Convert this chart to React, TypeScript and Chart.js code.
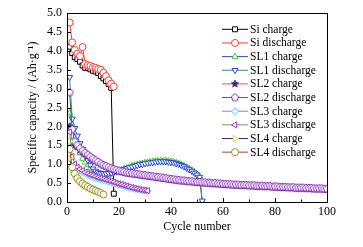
import React, { useEffect, useRef } from "react";
import { Chart, registerables } from "chart.js";
import { drawPoint } from "chart.js/helpers";

Chart.register(...registerables);

// Cycle numbers start at 1 for every series
const FIRST_CYCLE = 1;

const siCharge = [4.11, 3.94, 3.83, 3.78, 3.71, 3.61, 3.55, 3.54, 3.51, 3.47, 3.45, 3.41, 3.33, 3.27, 3.2, 3.12, 3.02, 0.22];
const siDischarge = [4.75, 4.22, 4.02, 3.92, 3.86, 4.1, 3.65, 3.62, 3.6, 3.57, 3.55, 3.52, 3.5, 3.42, 3.33, 3.22, 3.13, 3.05];

const sl1Charge = [2.35, 2.05, 1.7, 1.45, 1.3, 1.15, 1.05, 0.98, 0.9, 0.82, 0.76, 0.72, 0.7, 0.7, 0.71, 0.73, 0.75, 0.78, 0.8, 0.83, 0.85, 0.88, 0.9, 0.92, 0.95, 0.97, 0.99, 1.01, 1.02, 1.04, 1.05, 1.06, 1.07, 1.08, 1.09, 1.09, 1.09, 1.09, 1.08, 1.07, 1.06, 1.04, 1.02, 0.99, 0.96, 0.92, 0.88, 0.84, 0.79, 0.74, 0.68, 0.02];
const sl1Discharge = [3.3, 2.2, 1.95, 1.75, 1.55, 1.4, 1.25, 1.1, 0.98, 0.88, 0.82, 0.78, 0.76, 0.75, 0.75, 0.76, 0.77, 0.79, 0.81, 0.83, 0.85, 0.87, 0.89, 0.91, 0.93, 0.95, 0.97, 0.99, 1.0, 1.02, 1.03, 1.04, 1.05, 1.06, 1.07, 1.07, 1.07, 1.07, 1.06, 1.05, 1.04, 1.02, 1.0, 0.97, 0.94, 0.9, 0.86, 0.82, 0.77, 0.72, 0.66, 0.03];

const sl2Charge = [2.0, 1.55, 1.5, 1.45, 1.38, 1.32, 1.27, 1.22, 1.17, 1.12, 1.08, 1.04, 1.0, 0.96, 0.93, 0.9, 0.87, 0.85, 0.83, 0.81, 0.79, 0.78, 0.76, 0.75, 0.74, 0.73, 0.72, 0.71, 0.7, 0.69, 0.68, 0.67, 0.66, 0.65, 0.64, 0.63, 0.62, 0.61, 0.6, 0.59, 0.58, 0.57, 0.56, 0.55, 0.55, 0.54, 0.53, 0.53, 0.52, 0.51, 0.51, 0.5, 0.5, 0.49, 0.49, 0.48, 0.48, 0.47, 0.47, 0.46, 0.46, 0.45, 0.45, 0.44, 0.44, 0.44, 0.43, 0.43, 0.43, 0.42, 0.42, 0.42, 0.41, 0.41, 0.41, 0.4, 0.4, 0.4, 0.39, 0.39, 0.39, 0.38, 0.38, 0.38, 0.37, 0.37, 0.37, 0.36, 0.36, 0.36, 0.36, 0.35, 0.35, 0.35, 0.34, 0.34, 0.34, 0.34, 0.33, 0.33];
const sl2Discharge = [2.9, 1.92, 1.6, 1.5, 1.42, 1.36, 1.3, 1.25, 1.2, 1.15, 1.1, 1.06, 1.02, 0.98, 0.95, 0.92, 0.89, 0.87, 0.85, 0.83, 0.81, 0.8, 0.78, 0.77, 0.76, 0.75, 0.74, 0.73, 0.72, 0.71, 0.7, 0.69, 0.68, 0.67, 0.66, 0.65, 0.64, 0.63, 0.62, 0.61, 0.6, 0.59, 0.58, 0.57, 0.57, 0.56, 0.55, 0.55, 0.54, 0.53, 0.53, 0.52, 0.52, 0.51, 0.51, 0.5, 0.5, 0.49, 0.49, 0.48, 0.48, 0.47, 0.47, 0.46, 0.46, 0.46, 0.45, 0.45, 0.45, 0.44, 0.44, 0.44, 0.43, 0.43, 0.43, 0.42, 0.42, 0.42, 0.41, 0.41, 0.41, 0.4, 0.4, 0.4, 0.39, 0.39, 0.39, 0.38, 0.38, 0.38, 0.38, 0.37, 0.37, 0.37, 0.36, 0.36, 0.36, 0.36, 0.35, 0.35];

const sl3Charge = [1.6, 1.1, 0.95, 0.88, 0.83, 0.79, 0.76, 0.72, 0.69, 0.66, 0.64, 0.62, 0.6, 0.58, 0.56, 0.54, 0.52, 0.5, 0.48, 0.46, 0.44, 0.42, 0.4, 0.38, 0.37, 0.35, 0.34, 0.32, 0.31, 0.3, 0.29];
const sl3Discharge = [1.85, 1.2, 1.0, 0.92, 0.87, 0.83, 0.79, 0.75, 0.72, 0.7, 0.67, 0.65, 0.63, 0.61, 0.59, 0.57, 0.55, 0.53, 0.5, 0.48, 0.46, 0.44, 0.42, 0.4, 0.38, 0.36, 0.35, 0.33, 0.32, 0.31, 0.3];

const sl4Charge = [1.15, 0.85, 0.68, 0.58, 0.5, 0.45, 0.41, 0.37, 0.34, 0.31, 0.28, 0.25, 0.22, 0.19];
const sl4Discharge = [1.4, 0.92, 0.75, 0.63, 0.55, 0.49, 0.44, 0.4, 0.36, 0.33, 0.3, 0.27, 0.24, 0.2];

const seriesLabels = [
  "Si charge", "Si discharge", "SL1 charge", "SL1 discharge", "SL2 charge",
  "SL2 discharge", "SL3 charge", "SL3 discharge", "SL4 charge", "SL4 discharge",
];

const xTicks = [0, 20, 40, 60, 80, 100];
const yTickStep = 0.5;

const FONT = "'Liberation Serif', 'Times New Roman', serif";

function makePentagon(color: string, r: number) {
  const s = Math.ceil(r * 2 + 4);
  const c = document.createElement("canvas");
  c.width = s;
  c.height = s;
  const ctx = c.getContext("2d")!;
  ctx.beginPath();
  for (let i = 0; i < 5; i++) {
    const a = -Math.PI / 2 + (i * 2 * Math.PI) / 5;
    const x = s / 2 + r * Math.cos(a);
    const y = s / 2 + r * Math.sin(a);
    if (i === 0) ctx.moveTo(x, y);
    else ctx.lineTo(x, y);
  }
  ctx.closePath();
  ctx.fillStyle = "#ffffff";
  ctx.fill();
  ctx.strokeStyle = color;
  ctx.lineWidth = 1;
  ctx.stroke();
  return c;
}

function makeStar(color: string, r: number) {
  const s = Math.ceil(r * 2 + 4);
  const c = document.createElement("canvas");
  c.width = s;
  c.height = s;
  const ctx = c.getContext("2d")!;
  ctx.beginPath();
  for (let i = 0; i < 10; i++) {
    const a = -Math.PI / 2 + (i * Math.PI) / 5;
    const rr = i % 2 === 0 ? r : r * 0.45;
    const x = s / 2 + rr * Math.cos(a);
    const y = s / 2 + rr * Math.sin(a);
    if (i === 0) ctx.moveTo(x, y);
    else ctx.lineTo(x, y);
  }
  ctx.closePath();
  ctx.fillStyle = color;
  ctx.fill();
  ctx.strokeStyle = color;
  ctx.lineWidth = 0.8;
  ctx.stroke();
  return c;
}

const toPoints = (vals: number[]) => vals.map((y, i) => ({ x: FIRST_CYCLE + i, y }));

const framePlugin = {
  id: "frameTicks",
  afterDatasetsDraw(chart: any) {
    const { ctx, chartArea } = chart;
    const xs = chart.scales.x;
    const ys = chart.scales.y;
    ctx.save();
    ctx.strokeStyle = "#000";
    ctx.lineWidth = 1;
    ctx.strokeRect(
      Math.round(chartArea.left) + 0.5,
      Math.round(chartArea.top) + 0.5,
      Math.round(chartArea.right - chartArea.left),
      Math.round(chartArea.bottom - chartArea.top)
    );
    ctx.beginPath();
    for (let v = 0; v <= 100; v += 10) {
      const px = Math.round(xs.getPixelForValue(v)) + 0.5;
      const len = v % 20 === 0 ? 4 : 2.5;
      ctx.moveTo(px, chartArea.bottom);
      ctx.lineTo(px, chartArea.bottom - len);
    }
    for (let v = 0; v <= 5.0001; v += yTickStep) {
      const py = Math.round(ys.getPixelForValue(v)) + 0.5;
      ctx.moveTo(chartArea.left, py);
      ctx.lineTo(chartArea.left + 4, py);
    }
    ctx.stroke();
    ctx.restore();
  },
};

const legendPlugin = {
  id: "insideLegend",
  afterDraw(chart: any) {
    const { ctx, chartArea } = chart;
    const right = chartArea.right;
    const top = chartArea.top;
    ctx.save();
    chart.data.datasets.forEach((ds: any, i: number) => {
      const y = top + 16.3 + 13.65 * i;
      const x0 = right - 105;
      const x1 = right - 79;
      ctx.strokeStyle = ds.borderColor;
      ctx.lineWidth = 1;
      ctx.beginPath();
      ctx.moveTo(x0, y);
      ctx.lineTo(x1, y);
      ctx.stroke();
      ctx.fillStyle = ds.pointBackgroundColor;
      ctx.strokeStyle = ds.pointBorderColor;
      drawPoint(
        ctx,
        { pointStyle: ds.pointStyle, rotation: ds.pointRotation || 0, radius: ds.pointRadius, borderWidth: 1 },
        (x0 + x1) / 2,
        y
      );
      ctx.fillStyle = "#000";
      ctx.font = `11.5px ${FONT}`;
      ctx.textBaseline = "middle";
      ctx.textAlign = "left";
      ctx.fillText(ds.label, right - 77, y + 0.5);
    });
    ctx.restore();
  },
};

export default function App() {
  const ref = useRef<HTMLCanvasElement | null>(null);

  useEffect(() => {
    if (!ref.current) return;
    document.body.style.margin = "0";

    const pentagon = makePentagon("#8a2fb8", 3.8);
    const star = makeStar("#2e2a78", 3.8);

    const mk = (
      idx: number,
      vals: number[],
      lineColor: string,
      markerColor: string,
      pointStyle: any,
      rotation = 0
    ) => ({
      label: seriesLabels[idx],
      data: toPoints(vals),
      showLine: true,
      order: seriesLabels.length - idx,
      borderColor: lineColor,
      borderWidth: 1,
      pointStyle,
      pointRotation: rotation,
      pointRadius: 3.5,
      pointBorderWidth: 1,
      pointBorderColor: markerColor,
      pointBackgroundColor: "#ffffff",
      tension: 0,
    });

    const datasets = [
      mk(0, siCharge, "#000000", "#000000", "rect"),
      mk(1, siDischarge, "#ff3b30", "#ff3b30", "circle"),
      mk(2, sl1Charge, "#2a4fd0", "#4cc43a", "triangle"),
      mk(3, sl1Discharge, "#3a8a86", "#2a48e0", "triangle", 180),
      mk(4, sl2Charge, "#ff3f95", "#2e2a78", star),
      mk(5, sl2Discharge, "#2e7a2e", "#8a2fb8", pentagon),
      mk(6, sl3Charge, "#c75ee0", "#3fdcf0", "rectRot"),
      mk(7, sl3Discharge, "#8f9045", "#a531c4", "triangle", 270),
      mk(8, sl4Charge, "#2e3090", "#e8e020", "triangle", 90),
      mk(9, sl4Discharge, "#a84a38", "#969628", "circle"),
    ];

    const chart = new Chart(ref.current, {
      type: "scatter",
      data: { datasets },
      options: {
        animation: false,
        responsive: true,
        maintainAspectRatio: false,
        layout: { padding: { left: 22, top: 13, right: 36, bottom: 9 } },
        plugins: { legend: { display: false }, tooltip: { enabled: false } },
        scales: {
          x: {
            type: "linear",
            min: 0,
            max: 100,
            afterFit: (s: any) => { s.height = 36; },
            afterBuildTicks: (s: any) => { s.ticks = xTicks.map((v) => ({ value: v })); },
            grid: { display: false, drawTicks: false },
            border: { display: false },
            ticks: { padding: 3, color: "#000", font: { family: FONT, size: 12 }, maxRotation: 0 },
            title: {
              display: true,
              text: "Cycle number",
              color: "#000",
              font: { family: FONT, size: 12 },
              padding: { top: 4, bottom: 4 },
            },
          },
          y: {
            type: "linear",
            min: 0,
            max: 5,
            afterFit: (s: any) => { s.width = 45; },
            grid: { display: false, drawTicks: false },
            border: { display: false },
            ticks: {
              stepSize: yTickStep,
              padding: 5,
              color: "#000",
              font: { family: FONT, size: 12 },
              callback: (v: any) => Number(v).toFixed(1),
            },
            title: {
              display: true,
              text: "Specific capacity / (Ah\u00B7g\u207B\u00B9)",
              color: "#000",
              font: { family: FONT, size: 12 },
              padding: { top: 4, bottom: 4 },
            },
          },
        },
      },
      plugins: [framePlugin, legendPlugin],
    } as any);

    return () => chart.destroy();
  }, []);

  return (
    <div style={{ position: "absolute", left: 0, top: 0, width: 363, height: 247, background: "#fff" }}>
      <canvas ref={ref} />
    </div>
  );
}
